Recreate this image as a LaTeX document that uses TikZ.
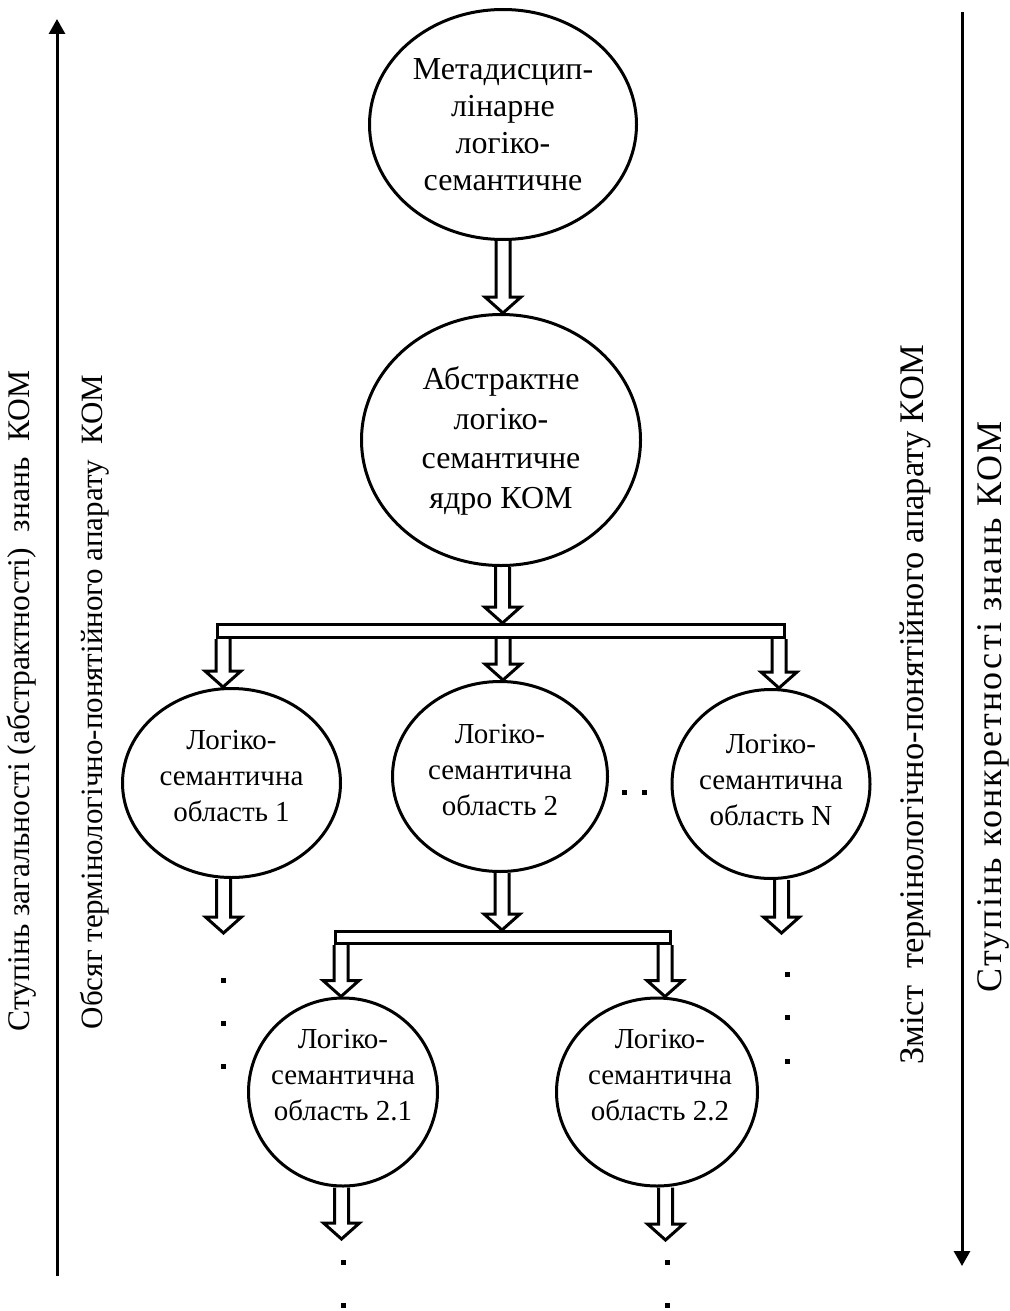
\documentclass[tikz,border=0pt]{standalone}
\usepackage{fontspec}
\setmainfont{Liberation Serif}
\usetikzlibrary{arrows.meta,calc,shapes.geometric}

\begin{document}
\begin{tikzpicture}[x=1pt,y=-1pt,line width=3pt,
  oval/.style={draw,ellipse,inner sep=0pt,line width=3pt},
  bigtxt/.style={align=center,inner sep=0pt,font=\fontsize{32}{38}\selectfont},
  smalltxt/.style={align=center,inner sep=0pt,font=\fontsize{29}{36}\selectfont},
  sidetxt/.style={rotate=90,inner sep=0pt},
  bar/.style={draw,fill=white,inner sep=0pt,line width=3pt},
  dotmark/.style={fill,inner sep=0pt,minimum size=5pt},
  axis/.style={line width=3pt,-{Triangle[width=16pt,length=15pt]}},
  hollow/.style={line width=3pt,line join=miter,to path={
    let \p1=(\tikztostart), \p2=(\tikztotarget) in
    (\x1-7pt,\y1) -- (\x1-7pt,\y2+16pt) -- (\x1-18pt,\y2+16pt) -- (\x1,\y2)
    -- (\x1+18pt,\y2+16pt) -- (\x1+7pt,\y2+16pt) -- (\x1+7pt,\y1)}},
]
\path[use as bounding box,fill=white] (0,0) rectangle (1009,1311);

% side axes
\coordinate (lb) at (57,1276);
\coordinate (lt) at (57,19);
\coordinate (rt) at (962,12);
\coordinate (rb) at (962,1266);
\draw[axis] (lb) -- (lt);
\draw[axis] (rt) -- (rb);

\node[sidetxt,font=\fontsize{31.5}{36}\selectfont] (s1) at (22,701)
  {Ступінь загальності (абстрактності)\ \ знань\ \ КОМ};
\node[sidetxt,font=\fontsize{31}{36}\selectfont] (s2) at (95,702)
  {Обсяг термінологічно-понятійного апарату\ \ КОМ};
\node[sidetxt,font=\fontsize{34.5}{40}\selectfont] (s3) at (915,705)
  {Зміст\ \ термінологічно-понятійного апарату КОМ};
\node[sidetxt,font=\fontsize{36}{42}\selectfont\addfontfeature{LetterSpace=6}] (s4) at (993,707)
  {Ступінь конкретності знань КОМ};

% ovals
\node[oval,minimum width=267pt,minimum height=230pt] (meta) at (503,124.5) {};
\node[bigtxt,font=\fontsize{32}{37}\selectfont] (metat) at (503,125) {Метадисцип-\\лінарне\\логіко-\\семантичне};

\node[oval,minimum width=279pt,minimum height=251pt] (abs) at (501,440) {};
\node[bigtxt,font=\fontsize{32}{39.5}\selectfont] (abst) at (501,441) {Абстрактне\\логіко-\\семантичне\\ядро КОМ};

\node[oval,minimum width=218pt,minimum height=189pt] (l1) at (231.5,783) {};
\node[smalltxt] (l1t) at (231.5,776) {Логіко-\\семантична\\область 1};

\node[oval,minimum width=215pt,minimum height=190pt] (l2) at (500,776.5) {};
\node[smalltxt] (l2t) at (500,770.5) {Логіко-\\семантична\\область 2};

\node[oval,minimum width=198pt,minimum height=189pt] (ln) at (771,784) {};
\node[smalltxt] (lnt) at (771,780) {Логіко-\\семантична\\область N};

\node[oval,minimum width=189pt,minimum height=188pt] (l21) at (343,1092) {};
\node[smalltxt] (l21t) at (343,1075) {Логіко-\\семантична\\область 2.1};

\node[oval,minimum width=201pt,minimum height=188pt] (l22) at (657,1092) {};
\node[smalltxt] (l22t) at (660,1075) {Логіко-\\семантична\\область 2.2};

% distribution bars
\node[bar,minimum width=567pt,minimum height=13pt] (bar1) at (501,631) {};
\node[bar,minimum width=335pt,minimum height=12pt] (bar2) at (503,937.5) {};

% hollow arrows
\draw[hollow] (meta.south) to (abs.north);
\draw[hollow] ([xshift=1.5pt]abs.south) to (bar1.north);
\draw[hollow] ([xshift=7pt]bar1.south west) to (l1.north);
\draw[hollow] ([xshift=2pt]bar1.south) to (l2.north);
\draw[hollow] ([xshift=-7pt]bar1.south east) to (ln.north);
\draw[hollow] ([xshift=2pt]l2.south) to (bar2.north);
\draw[hollow] ([xshift=7pt]bar2.south west) to (l21.north);
\draw[hollow] ([xshift=-7pt]bar2.south east) to (l22.north);

\coordinate (l1end) at (223.5,933);
\coordinate (lnend) at (781.5,933);
\coordinate (l21end) at (341.5,1239);
\coordinate (l22end) at (665.5,1240);
\draw[hollow] ([xshift=-8pt]l1.south) to (l1end);
\draw[hollow] ([xshift=10.5pt]ln.south) to (lnend);
\draw[hollow] ([xshift=-1.5pt]l21.south) to (l21end);
\draw[hollow] ([xshift=8.5pt]l22.south) to (l22end);

% ellipsis dots
\node[dotmark] (d1) at (624,792) {};
\node[dotmark] (d2) at (644,792) {};
\node[dotmark] (d3) at (223,980) {};
\node[dotmark] (d4) at (223,1023) {};
\node[dotmark] (d5) at (223,1066) {};
\node[dotmark] (d6) at (787,974) {};
\node[dotmark] (d7) at (787,1017) {};
\node[dotmark] (d8) at (787,1061) {};
\node[dotmark] (d9) at (343,1262) {};
\node[dotmark] (d10) at (343,1305) {};
\node[dotmark] (d11) at (667,1262) {};
\node[dotmark] (d12) at (667,1305) {};
\end{tikzpicture}
\end{document}
